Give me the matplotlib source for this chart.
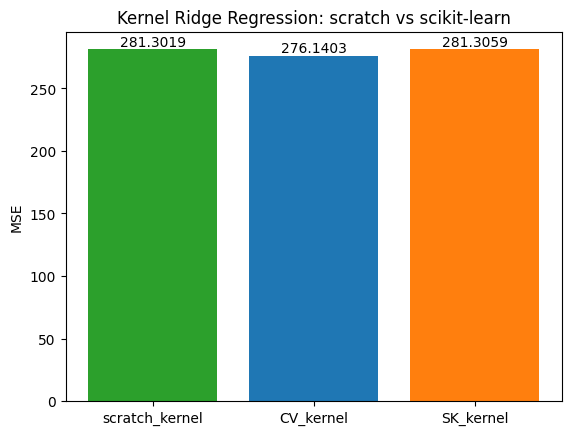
import matplotlib
matplotlib.use("Agg")
import matplotlib.pyplot as plt

models = ["scratch_kernel", "CV_kernel", "SK_kernel"]
mse = [281.3019, 276.1403, 281.3059]
colors = ["tab:green", "tab:blue", "tab:orange"]

fig, ax = plt.subplots(figsize=(6.4, 4.8))
bars = ax.bar(models, mse, color=colors)
ax.bar_label(bars, fmt="%.4f")
ax.set_ylabel("MSE")
ax.set_title("Kernel Ridge Regression: scratch vs scikit-learn")

fig.savefig("out.png", dpi=100, bbox_inches="tight")
